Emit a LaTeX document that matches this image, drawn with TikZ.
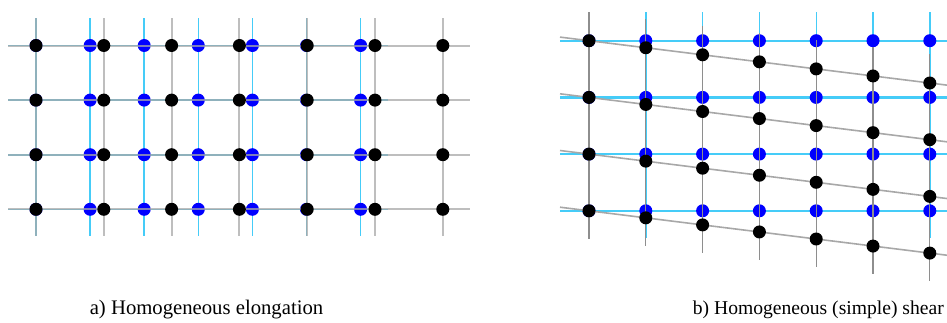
\documentclass[tikz,border=0pt]{standalone}
\usepackage{fontspec}
\setmainfont{Liberation Serif}
\definecolor{gridblue}{HTML}{45CCF8}
\definecolor{dotblue}{HTML}{0000FF}
\definecolor{gridgray}{HTML}{A8A8A8}
\definecolor{vgray}{HTML}{8E8E8E}
\tikzset{
  blueline/.style={draw=gridblue, line width=1.6pt},
  bluevline/.style={draw=gridblue, line width=1.4pt},
  bluehline/.style={draw=gridblue, line width=2.2pt},
  grayline/.style={draw=gridgray, line width=2pt, opacity=0.75},
  vline/.style={draw=vgray, line width=1.2pt},
  sline/.style={draw=gridgray, line width=1.6pt},
  bluedot/.style={fill=dotblue},
  blackdot/.style={fill=black},
  caption/.style={font=\fontsize{20.7}{24}\selectfont, anchor=base, inner sep=0pt},
  captionb/.style={font=\fontsize{19.6}{24}\selectfont, anchor=base east, inner sep=0pt}
}
\begin{document}
\begin{tikzpicture}[x=1pt, y=-1pt]
\useasboundingbox (0,0) rectangle (947,322);
\clip (0,0) rectangle (947,322);
% ---------- a) elongation ----------
% blue (original) grid
\foreach \i in {0,...,6} {
  \draw[blueline] ({36+54.1*\i},18) -- ({36+54.1*\i},236);
}
\foreach \j in {0,...,3} {
  \draw[blueline] (8,{45.5+54.6*\j}) -- (388,{45.5+54.6*\j});
}
\foreach \i in {0,...,6} \foreach \j in {0,...,3} {
  \fill[bluedot] ({36+54.1*\i},{45.5+54.6*\j}) circle (6.5);
}
% gray (deformed) grid
\foreach \i in {0,...,6} {
  \draw[grayline] ({36+67.8*\i},18) -- ({36+67.8*\i},236);
}
\foreach \j in {0,...,3} {
  \draw[grayline] (8,{45.5+54.6*\j}) -- (470,{45.5+54.6*\j});
}
\foreach \i in {0,...,6} \foreach \j in {0,...,3} {
  \fill[blackdot] ({36+67.8*\i},{45.5+54.6*\j}) circle (6.5);
}
% ---------- b) shear ----------
\foreach \i in {0,...,6} {
  \draw[bluevline] ({589+56.8*\i},12) -- ({589+56.8*\i},238);
}
\foreach \j in {0,...,3} {
  \draw[bluehline] (560,{40.7+56.7*\j}) -- (960,{40.7+56.7*\j});
}
\foreach \i in {0,...,6} \foreach \j in {0,...,3} {
  \fill[bluedot] ({589+56.8*\i},{40.7+56.7*\j}) circle (6.5);
}
\foreach \i in {0,...,6} {
  \draw[vline] ({589+56.8*\i},{12+7.05*\i}) -- ({589+56.8*\i},{239+7.05*\i});
}
\foreach \j in {0,...,3} {
  \draw[sline] (560,{40.7+56.7*\j-0.1241*29}) -- (960,{40.7+56.7*\j+0.1241*371});
}
\foreach \i in {0,...,6} \foreach \j in {0,...,3} {
  \fill[blackdot] ({589+56.8*\i},{40.7+56.7*\j+7.05*\i}) circle (6.5);
}
% captions
\node[caption] (capa) at (206.5,314) {a) Homogeneous elongation};
\node[captionb] (capb) at (944,314) {b) Homogeneous (simple) shear};
\end{tikzpicture}
\end{document}
